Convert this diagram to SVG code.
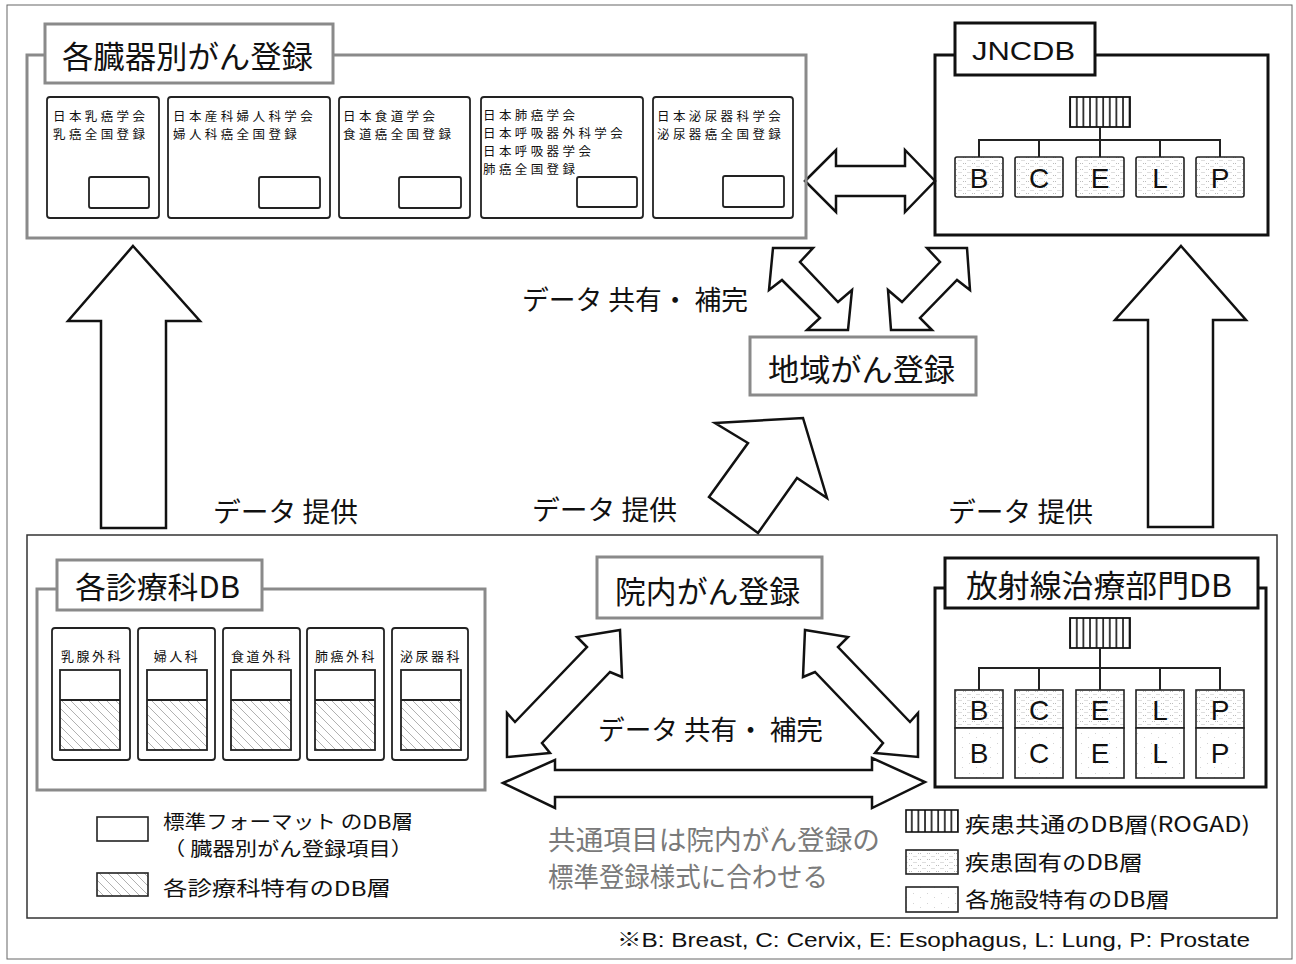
<svg xmlns="http://www.w3.org/2000/svg" width="1296" height="964" viewBox="0 0 1296 964">
<defs>
<pattern id="vstripe" width="6.6" height="10" patternUnits="userSpaceOnUse">
<rect width="6.6" height="10" fill="#fff"/>
<line x1="1" y1="0" x2="1" y2="10" stroke="#111" stroke-width="1.6"/>
</pattern>
<pattern id="dots" width="9" height="6" patternUnits="userSpaceOnUse">
<rect width="9" height="6" fill="#fff"/>
<line x1="0" y1="1.5" x2="4" y2="1.5" stroke="#b4b4b4" stroke-width="0.9" stroke-dasharray="1 1"/>
<line x1="4.5" y1="4.5" x2="8.5" y2="4.5" stroke="#b4b4b4" stroke-width="0.9" stroke-dasharray="1 1"/>
</pattern>
<pattern id="hatch" width="9" height="9" patternUnits="userSpaceOnUse">
<rect width="9" height="9" fill="#fff"/>
<path d="M0,0 L9,9 M-3,6 L3,12 M6,-3 L12,3" stroke="#a8a8a8" stroke-width="0.9" fill="none"/>
</pattern>
<pattern id="sparse" width="14" height="10" patternUnits="userSpaceOnUse">
<rect width="14" height="10" fill="#fff"/>
<rect x="3" y="3" width="1" height="1" fill="#d4d4d4"/>
<rect x="10" y="7" width="1" height="1" fill="#d4d4d4"/>
</pattern>
</defs>
<style>
.jp{font-family:"Noto Sans CJK JP","Noto Sans CJK SC",sans-serif;fill:#111;dominant-baseline:central}
.lat{font-family:"Liberation Sans",Arial,"Noto Sans CJK JP",sans-serif;fill:#111;dominant-baseline:central}
.gbox{fill:#fff;stroke:#8a8a8a;stroke-width:3}
.gcont{fill:none;stroke:#8a8a8a;stroke-width:3}
.bbox{fill:#fff;stroke:#111;stroke-width:3}
.bcont{fill:none;stroke:#111;stroke-width:3}
.ibox{fill:#fff;stroke:#222;stroke-width:1.8}
.line{stroke:#222;stroke-width:2;fill:none}
.arrow{fill:#fff;stroke:#111;stroke-width:2.5;stroke-linejoin:miter}
.title{font-size:31px}
.small{font-size:12.5px;letter-spacing:3.4px}
.dept{font-size:13px;letter-spacing:2.5px;text-anchor:middle}
.label{font-size:27px}
.leg{font-size:19px}
.leg3{font-size:20px}
.legr{font-size:21px}
.big{font-size:28px;text-anchor:middle}
</style>
<rect x="7" y="5" width="1285" height="954" fill="#fff" stroke="#666" stroke-width="1"/>
<rect x="27" y="535" width="1250" height="383" fill="none" stroke="#333" stroke-width="1.5"/>

<g id="connectors">
<polygon class="arrow" points="805,181 836,150 836,166 905,166 905,150 935,181 905,212 905,196 836,196 836,212"/>
<polygon class="arrow" points="773,248 813,248 800,262 838,302 852,290 848,330 807,330 820,318 782,280 769,290"/>
<polygon class="arrow" points="967,248 927,248 940,262 902,302 888,290 891,330 932,330 920,318 957,280 970,290"/>
<polygon class="arrow" points="133,246 200,321 166,321 166,528 101,528 101,321 68,321"/>
<polygon class="arrow" points="1181,246 1246,320 1213,320 1213,527 1148,527 1148,320 1115,320"/>
<polygon class="arrow" points="715,423 803,418 827,498 797,478 758,533 709,497 748,443"/>
<polygon class="arrow" points="620,630 622,677 610,672 542,743 550,753 507,757 507,713 515,722 587,647 577,637"/>
<polygon class="arrow" points="805,630 803,677 815,672 883,743 875,753 918,757 918,713 910,722 838,647 848,637"/>
<polygon class="arrow" points="503,783 555,760 555,770 872,770 872,758 925,782 872,808 872,797 555,797 555,808"/>
</g>

<g id="organ-registry">
<rect class="gcont" x="27" y="55" width="779" height="183"/>
<rect class="gbox" x="45" y="24" width="288" height="59"/>
<text class="jp title" x="62" y="54" textLength="251" lengthAdjust="spacingAndGlyphs">各臓器別がん登録</text>
</g>
<g id="reg-breast">
<rect class="ibox" x="47" y="97" width="112" height="121" rx="3"/>
<text class="jp small" x="53" y="115">日本乳癌学会</text>
<text class="jp small" x="53" y="133">乳癌全国登録</text>
<rect class="ibox" x="89" y="177" width="60" height="31" rx="2"/>
</g>
<g id="reg-cervix">
<rect class="ibox" x="168" y="97" width="162" height="121" rx="3"/>
<text class="jp small" x="173" y="115">日本産科婦人科学会</text>
<text class="jp small" x="173" y="133">婦人科癌全国登録</text>
<rect class="ibox" x="259" y="177" width="61" height="31" rx="2"/>
</g>
<g id="reg-esophagus">
<rect class="ibox" x="339" y="97" width="131" height="121" rx="3"/>
<text class="jp small" x="343" y="115">日本食道学会</text>
<text class="jp small" x="343" y="133">食道癌全国登録</text>
<rect class="ibox" x="399" y="177" width="62" height="31" rx="2"/>
</g>
<g id="reg-lung">
<rect class="ibox" x="481" y="97" width="162" height="121" rx="3"/>
<text class="jp small" x="483" y="114">日本肺癌学会</text>
<text class="jp small" x="483" y="132">日本呼吸器外科学会</text>
<text class="jp small" x="483" y="150">日本呼吸器学会</text>
<text class="jp small" x="483" y="168">肺癌全国登録</text>
<rect class="ibox" x="577" y="177" width="60" height="30" rx="2"/>
</g>
<g id="reg-prostate">
<rect class="ibox" x="653" y="97" width="140" height="121" rx="3"/>
<text class="jp small" x="657" y="115">日本泌尿器科学会</text>
<text class="jp small" x="657" y="133">泌尿器癌全国登録</text>
<rect class="ibox" x="723" y="176" width="61" height="31" rx="2"/>
</g>

<g id="jncdb">
<rect class="bcont" x="935" y="55" width="333" height="180"/>
<rect class="bbox" x="955" y="23" width="140" height="52"/>
<text class="lat" x="972" y="51" font-size="26" textLength="103" lengthAdjust="spacingAndGlyphs">JNCDB</text>
<rect x="1070" y="97" width="60" height="30" fill="url(#vstripe)" stroke="#111" stroke-width="1.8"/>
<path class="line" d="M1100,127 V140 M979,157 V140 H1220 V157 M1039,140 V157 M1100,140 V157 M1160,140 V157"/>
<g fill="url(#dots)" stroke="#222" stroke-width="1.6">
<rect x="955" y="157" width="48" height="40" rx="2"/>
<rect x="1015" y="157" width="48" height="40" rx="2"/>
<rect x="1076" y="157" width="48" height="40" rx="2"/>
<rect x="1136" y="157" width="48" height="40" rx="2"/>
<rect x="1196" y="157" width="48" height="40" rx="2"/>
</g>
<text class="lat big" x="979" y="178">B</text>
<text class="lat big" x="1039" y="178">C</text>
<text class="lat big" x="1100" y="178">E</text>
<text class="lat big" x="1160" y="178">L</text>
<text class="lat big" x="1220" y="178">P</text>
</g>

<g id="regional-registry">
<rect class="gbox" x="750" y="337" width="226" height="58"/>
<text class="jp title" x="768" y="367" textLength="187" lengthAdjust="spacingAndGlyphs">地域がん登録</text>
</g>

<g id="labels">
<text class="jp label" x="522" y="298" textLength="226" lengthAdjust="spacingAndGlyphs">データ 共有・ 補完</text>
<text class="jp label" x="213" y="510" textLength="145" lengthAdjust="spacingAndGlyphs">データ 提供</text>
<text class="jp label" x="532" y="508" textLength="145" lengthAdjust="spacingAndGlyphs">データ 提供</text>
<text class="jp label" x="948" y="510" textLength="145" lengthAdjust="spacingAndGlyphs">データ 提供</text>
<text class="jp label" x="598" y="728" textLength="225" lengthAdjust="spacingAndGlyphs">データ 共有・ 補完</text>
<text class="jp" x="548" y="838" font-size="27" style="fill:#7a7a7a" textLength="332" lengthAdjust="spacingAndGlyphs">共通項目は院内がん登録の</text>
<text class="jp" x="548" y="875" font-size="27" style="fill:#7a7a7a" textLength="280" lengthAdjust="spacingAndGlyphs">標準登録様式に合わせる</text>
</g>

<g id="dept-db">
<rect class="gcont" x="37" y="589" width="448" height="201"/>
<rect class="gbox" x="57" y="560" width="205" height="50"/>
<text class="jp" x="75" y="585" font-size="30" textLength="165" lengthAdjust="spacingAndGlyphs">各診療科DB</text>
</g>
<g id="dept-breast">
<rect class="ibox" x="52" y="628" width="78" height="132" rx="3"/>
<text class="jp dept" x="92" y="655">乳腺外科</text>
<rect x="60" y="700" width="60" height="50" fill="url(#hatch)"/>
<rect x="60" y="670" width="60" height="80" fill="none" stroke="#222" stroke-width="1.8"/>
<line class="line" x1="60" y1="700" x2="120" y2="700"/>
</g>
<g id="dept-gyn">
<rect class="ibox" x="138" y="628" width="77" height="132" rx="3"/>
<text class="jp dept" x="177" y="655">婦人科</text>
<rect x="147" y="700" width="60" height="50" fill="url(#hatch)"/>
<rect x="147" y="670" width="60" height="80" fill="none" stroke="#222" stroke-width="1.8"/>
<line class="line" x1="147" y1="700" x2="207" y2="700"/>
</g>
<g id="dept-eso">
<rect class="ibox" x="223" y="628" width="77" height="132" rx="3"/>
<text class="jp dept" x="262" y="655">食道外科</text>
<rect x="231" y="700" width="60" height="50" fill="url(#hatch)"/>
<rect x="231" y="670" width="60" height="80" fill="none" stroke="#222" stroke-width="1.8"/>
<line class="line" x1="231" y1="700" x2="291" y2="700"/>
</g>
<g id="dept-lung">
<rect class="ibox" x="307" y="628" width="77" height="132" rx="3"/>
<text class="jp dept" x="346" y="655">肺癌外科</text>
<rect x="315" y="700" width="60" height="50" fill="url(#hatch)"/>
<rect x="315" y="670" width="60" height="80" fill="none" stroke="#222" stroke-width="1.8"/>
<line class="line" x1="315" y1="700" x2="375" y2="700"/>
</g>
<g id="dept-uro">
<rect class="ibox" x="392" y="628" width="76" height="132" rx="3"/>
<text class="jp dept" x="431" y="655">泌尿器科</text>
<rect x="401" y="700" width="60" height="50" fill="url(#hatch)"/>
<rect x="401" y="670" width="60" height="80" fill="none" stroke="#222" stroke-width="1.8"/>
<line class="line" x1="401" y1="700" x2="461" y2="700"/>
</g>

<g id="hospital-registry">
<rect class="gbox" x="597" y="557" width="225" height="61"/>
<text class="jp title" x="615" y="589" textLength="185" lengthAdjust="spacingAndGlyphs">院内がん登録</text>
</g>

<g id="radiation-db">
<rect class="bcont" x="935" y="588" width="331" height="199"/>
<rect class="bbox" x="945" y="558" width="313" height="50"/>
<text class="jp" x="966" y="583" font-size="31" textLength="266" lengthAdjust="spacingAndGlyphs">放射線治療部門DB</text>
<rect x="1070" y="618" width="60" height="30" fill="url(#vstripe)" stroke="#111" stroke-width="1.8"/>
<path class="line" d="M1100,648 V668 M979,690 V668 H1220 V690 M1039,668 V690 M1100,668 V690 M1160,668 V690"/>
<g stroke="#222" stroke-width="1.6">
<rect x="955" y="690" width="48" height="38" fill="url(#dots)"/>
<rect x="1015" y="690" width="48" height="38" fill="url(#dots)"/>
<rect x="1076" y="690" width="48" height="38" fill="url(#dots)"/>
<rect x="1136" y="690" width="48" height="38" fill="url(#dots)"/>
<rect x="1196" y="690" width="48" height="38" fill="url(#dots)"/>
<rect x="955" y="728" width="48" height="50" fill="url(#sparse)"/>
<rect x="1015" y="728" width="48" height="50" fill="url(#sparse)"/>
<rect x="1076" y="728" width="48" height="50" fill="url(#sparse)"/>
<rect x="1136" y="728" width="48" height="50" fill="url(#sparse)"/>
<rect x="1196" y="728" width="48" height="50" fill="url(#sparse)"/>
</g>
<text class="lat big" x="979" y="710" font-size="26">B</text>
<text class="lat big" x="1039" y="710" font-size="26">C</text>
<text class="lat big" x="1100" y="710" font-size="26">E</text>
<text class="lat big" x="1160" y="710" font-size="26">L</text>
<text class="lat big" x="1220" y="710" font-size="26">P</text>
<text class="lat big" x="979" y="753">B</text>
<text class="lat big" x="1039" y="753">C</text>
<text class="lat big" x="1100" y="753">E</text>
<text class="lat big" x="1160" y="753">L</text>
<text class="lat big" x="1220" y="753">P</text>
</g>

<g id="legend-left">
<rect x="97" y="817" width="51" height="24" fill="#fff" stroke="#222" stroke-width="1.6"/>
<text class="jp leg" x="163" y="820" textLength="250" lengthAdjust="spacingAndGlyphs">標準フォーマット のDB層</text>
<text class="jp leg" x="163" y="847" textLength="250" lengthAdjust="spacingAndGlyphs">（ 臓器別がん登録項目）</text>
<rect x="97" y="873" width="51" height="23" fill="url(#hatch)" stroke="#222" stroke-width="1.6"/>
<text class="jp leg3" x="163" y="887" textLength="228" lengthAdjust="spacingAndGlyphs">各診療科特有のDB層</text>
</g>

<g id="legend-right">
<rect x="906" y="810" width="52" height="22" fill="url(#vstripe)" stroke="#111" stroke-width="1.6"/>
<text class="jp legr" x="965" y="823" textLength="285" lengthAdjust="spacingAndGlyphs">疾患共通のDB層(ROGAD)</text>
<rect x="906" y="850" width="52" height="24" fill="url(#dots)" stroke="#222" stroke-width="1.6"/>
<text class="jp legr" x="965" y="861" textLength="178" lengthAdjust="spacingAndGlyphs">疾患固有のDB層</text>
<rect x="906" y="887" width="52" height="25" fill="url(#sparse)" stroke="#222" stroke-width="1.6"/>
<text class="jp legr" x="965" y="898" textLength="205" lengthAdjust="spacingAndGlyphs">各施設特有のDB層</text>
</g>

<text class="lat" x="617" y="940" font-size="20" textLength="633" lengthAdjust="spacingAndGlyphs">※B: Breast, C: Cervix, E: Esophagus, L: Lung, P: Prostate</text>
</svg>
